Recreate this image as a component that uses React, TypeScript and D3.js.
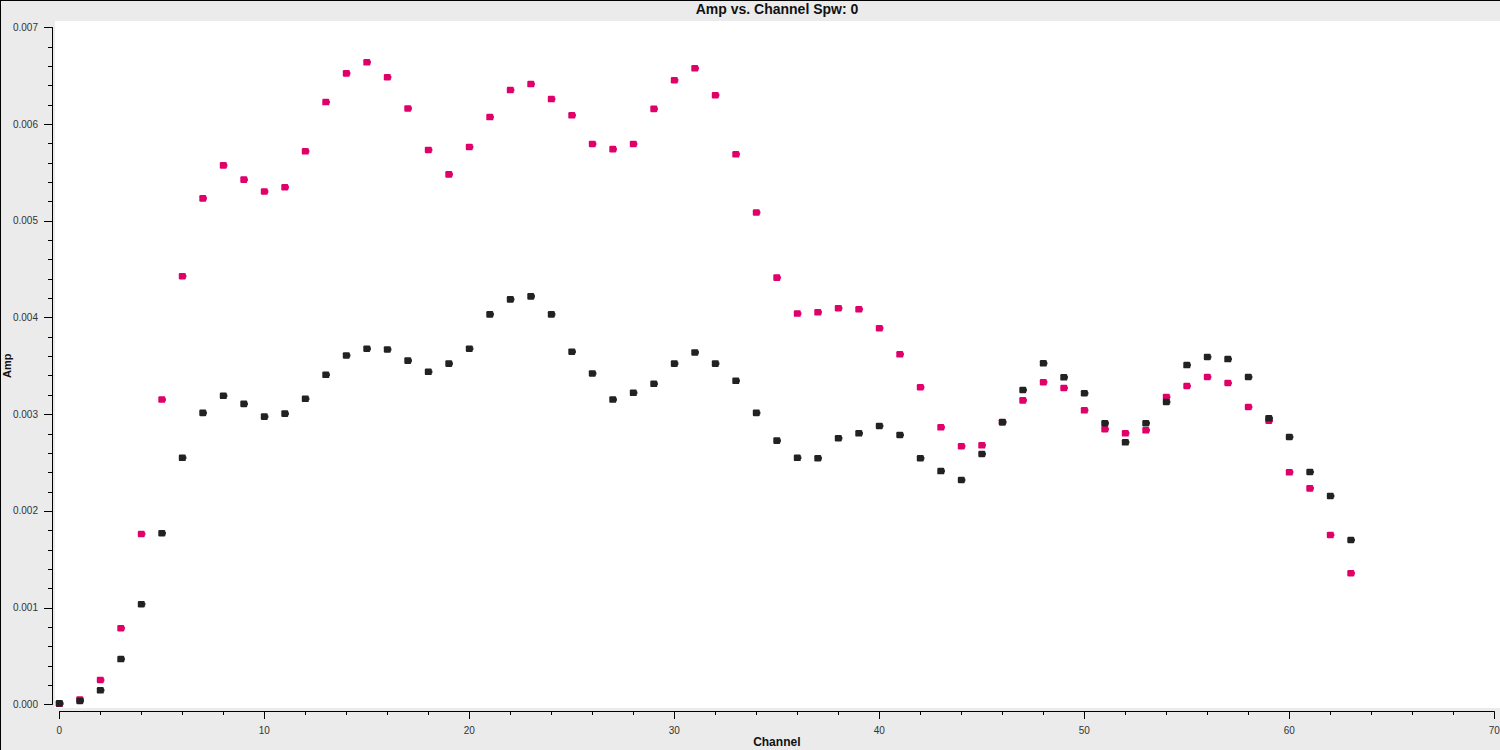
import React from "react";
import * as d3 from "d3";

const channels: number[] = Array.from({ length: 64 }, (_, i) => i);

const pinkAmp: number[] = [
  0.000005, 0.00005, 0.000251, 0.000787, 0.001761, 0.003151, 0.004426, 0.005231,
  0.005572, 0.005425, 0.005302, 0.005346, 0.005718, 0.006227, 0.006524, 0.006638,
  0.006484, 0.006161, 0.005732, 0.005479, 0.005763, 0.006072, 0.006351, 0.006413,
  0.006258, 0.00609, 0.005794, 0.00574, 0.005794, 0.006157, 0.006453, 0.006576,
  0.006298, 0.005687, 0.005085, 0.004412, 0.00404, 0.004053, 0.004095, 0.004084,
  0.003888, 0.003619, 0.003278, 0.002864, 0.002668, 0.002678, 0.002915, 0.003143,
  0.00333, 0.003271, 0.00304, 0.002844, 0.002802, 0.002833, 0.003178, 0.003291,
  0.003384, 0.003322, 0.003074, 0.002932, 0.002399, 0.002233, 0.001751, 0.001355,
];

const blackAmp: number[] = [
  0.00001, 0.000034, 0.000145, 0.000468, 0.001035, 0.001769, 0.002549, 0.003013,
  0.00319, 0.003106, 0.002974, 0.003005, 0.003159, 0.003407, 0.003607, 0.003677,
  0.003669, 0.003554, 0.003438, 0.003523, 0.003677, 0.004032, 0.004187, 0.004218,
  0.004032, 0.003646, 0.003421, 0.003151, 0.003221, 0.003314, 0.003523, 0.003638,
  0.003523, 0.003345, 0.003013, 0.002726, 0.002549, 0.002544, 0.002751, 0.002802,
  0.002878, 0.002785, 0.002544, 0.002412, 0.002319, 0.002588, 0.002919, 0.00325,
  0.003526, 0.003381, 0.003216, 0.002906, 0.002709, 0.002906, 0.003126, 0.003508,
  0.003591, 0.00357, 0.003384, 0.002957, 0.002764, 0.002402, 0.002154, 0.001699,
];

const xMajorTicks: number[] = [0, 10, 20, 30, 40, 50, 60, 70];
const yMajorTicks: number[] = [0, 0.001, 0.002, 0.003, 0.004, 0.005, 0.006, 0.007];

const W = 1500;
const H = 750;
const FONT = "'Liberation Sans', Arial, Helvetica, sans-serif";

export default function App() {
  const x = d3.scaleLinear().domain([0, 70]).range([59.3, 1494.3]);
  const y = d3.scaleLinear().domain([0, 0.007]).range([704.3, 27.3]);

  const xMinor = d3.range(0, 70.001, 2);
  const yMinor = d3.range(0, 0.0070001, 0.0002);

  const marker = (cx: number, cy: number, color: string, key: string) => (
    <g key={key} transform={`translate(${cx},${cy})`}>
      <rect x={-3.5} y={-3.3} width={7} height={6.6} rx={1.2} fill={color} />
      <rect x={2.5} y={-1.3} width={1.6} height={2.6} fill={color} />
    </g>
  );

  return (
    <svg
      width={W}
      height={H}
      style={{ position: "absolute", left: 0, top: 0, display: "block" }}
      fontFamily={FONT}
    >
      <rect x={0} y={0} width={W} height={H} fill="#ebebeb" />
      <rect x={55} y={21} width={W - 55} height={708 - 21} fill="#ffffff" />
      <line x1={0} y1={0.5} x2={W} y2={0.5} stroke="#000" strokeWidth={1} />
      <line x1={0.5} y1={0} x2={0.5} y2={H} stroke="#000" strokeWidth={1} />

      <text
        x={777}
        y={14}
        textAnchor="middle"
        fontWeight="bold"
        fontSize={14}
        fill="#111"
      >
        Amp vs. Channel Spw: 0
      </text>

      {/* Y axis */}
      <line x1={52.5} y1={y(0.007)} x2={52.5} y2={y(0)} stroke="#000" strokeWidth={1} />
      {yMinor.map((v, i) => (
        <line
          key={`ym${i}`}
          x1={48}
          x2={52.5}
          y1={Math.round(y(v)) + 0.5}
          y2={Math.round(y(v)) + 0.5}
          stroke="#000"
        />
      ))}
      {yMajorTicks.map((v, i) => (
        <g key={`yt${i}`}>
          <line
            x1={44}
            x2={52.5}
            y1={Math.round(y(v)) + 0.5}
            y2={Math.round(y(v)) + 0.5}
            stroke="#000"
          />
          <text
            x={38}
            y={y(v)}
            dy="0.35em"
            textAnchor="end"
            fontSize={10}
            fill="#333"
          >
            {d3.format(".3f")(v)}
          </text>
        </g>
      ))}
      <text
        transform={`translate(11,${(y(0) + y(0.007)) / 2}) rotate(-90)`}
        textAnchor="middle"
        fontWeight="bold"
        fontSize={11}
        fill="#111"
      >
        Amp
      </text>

      {/* X axis */}
      <line x1={x(0)} y1={711.5} x2={x(70)} y2={711.5} stroke="#000" strokeWidth={1} />
      {xMinor.map((v, i) => (
        <line
          key={`xm${i}`}
          x1={Math.round(x(v)) + 0.5}
          x2={Math.round(x(v)) + 0.5}
          y1={711.5}
          y2={715}
          stroke="#000"
        />
      ))}
      {xMajorTicks.map((v, i) => (
        <g key={`xt${i}`}>
          <line
            x1={Math.round(x(v)) + 0.5}
            x2={Math.round(x(v)) + 0.5}
            y1={711.5}
            y2={719}
            stroke="#000"
          />
          <text
            x={x(v)}
            y={730}
            dy="0.35em"
            textAnchor="middle"
            fontSize={10}
            fill="#333"
          >
            {v}
          </text>
        </g>
      ))}
      <text
        x={(x(0) + x(70)) / 2}
        y={746}
        textAnchor="middle"
        fontWeight="bold"
        fontSize={12}
        fill="#111"
      >
        Channel
      </text>

      {/* Data */}
      {channels.map((c) => marker(x(c), y(pinkAmp[c]), "#e0006a", `p${c}`))}
      {channels.map((c) => marker(x(c), y(blackAmp[c]), "#222222", `b${c}`))}
    </svg>
  );
}
